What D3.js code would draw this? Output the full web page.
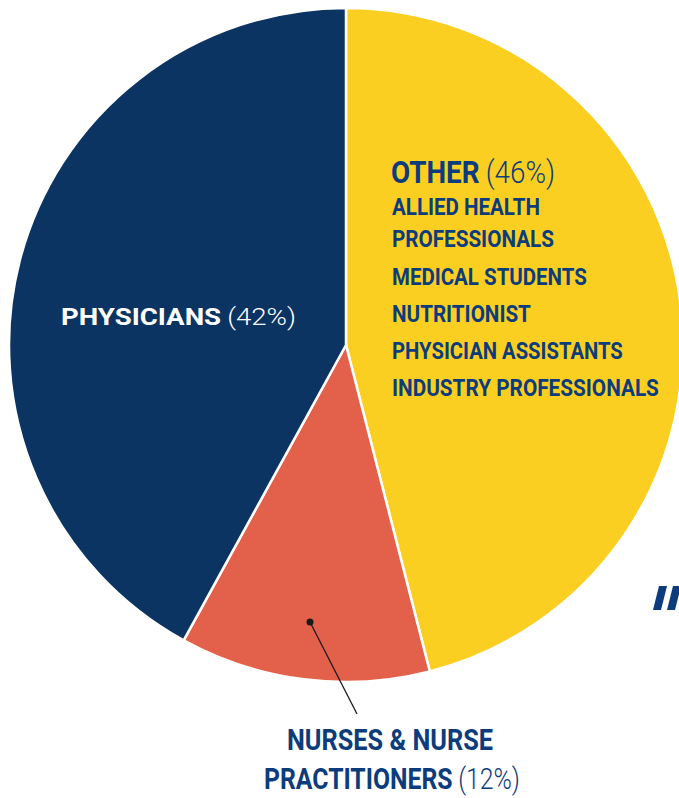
<!DOCTYPE html>
<html>
<head>
<meta charset="utf-8">
<script src="https://cdn.jsdelivr.net/npm/d3@7"></script>
<style>
  html, body { margin: 0; padding: 0; background: #ffffff; }
  svg { display: block; }
  text { font-family: Roboto, "Liberation Sans", sans-serif; }
</style>
</head>
<body>
<svg id="chart" width="679" height="798"></svg>
<script>
// ---- data ----
const categories = ["OTHER", "NURSES & NURSE PRACTITIONERS", "PHYSICIANS"];
const values = [46, 12, 42];
const colors = ["#FBCF21", "#E3614A", "#0C3462"];
const otherItems = ["ALLIED HEALTH", "PROFESSIONALS", "MEDICAL STUDENTS", "NUTRITIONIST", "PHYSICIAN ASSISTANTS", "INDUSTRY PROFESSIONALS"];

const W = 679, H = 798;
const cx = 346, cy = 345, R = 337;
const textBlue = "#0C3C7C";

const svg = d3.select("#chart");

// decorative quote marks partly visible at right edge
const deco = svg.append("g").attr("fill", "#0C3C7C");
deco.append("path").attr("d", "M659,586 L667,586 L661,610 L653,610 Z");
deco.append("path").attr("d", "M673,586 L681,586 L675,610 L667,610 Z");

const data = categories.map((c, i) => ({ name: c, value: values[i], color: colors[i] }));
const pie = d3.pie().value(d => d.value).sort(null);
const arcs = pie(data);
const arc = d3.arc().innerRadius(0).outerRadius(R);

const g = svg.append("g").attr("transform", `translate(${cx},${cy})`);
g.selectAll("path.slice").data(arcs).join("path")
  .attr("class", "slice")
  .attr("d", arc)
  .attr("fill", d => d.data.color)
  .attr("stroke", "#ffffff")
  .attr("stroke-width", 2.5)
  .attr("stroke-linejoin", "miter");

// label helper: parts laid out sequentially, whole group squeezed horizontally to a target width
function label(x, y, parts, size, width, color, anchor) {
  const grp = svg.append("g");
  let cur = 0;
  const nodes = [];
  parts.forEach((p, i) => {
    const t = grp.append("text")
      .attr("x", cur).attr("y", 0)
      .attr("font-size", size)
      .attr("font-weight", p.w)
      .attr("fill", color)
      .text(p.t);
    cur += t.node().getComputedTextLength();
    if (i < parts.length - 1) cur += size * 0.22;
    nodes.push(t);
  });
  const s = width / cur;
  const x0 = anchor === "middle" ? x - width / 2 : x;
  grp.attr("transform", `translate(${x0},${y}) scale(${s},1)`);
  return grp;
}

// ---- PHYSICIANS label ----
label(61, 325, [{ t: "PHYSICIANS", w: 700 }, { t: `(${values[2]}%)`, w: 300 }], 24, 235, "#ffffff");

// ---- OTHER label ----
label(391, 183, [{ t: "OTHER", w: 700 }, { t: `(${values[0]}%)`, w: 300 }], 32, 164, textBlue);

const itemY = [215, 247, 285, 322, 359, 396];
const itemW = [148, 162, 195, 139, 231, 267];
otherItems.forEach((d, i) => {
  label(392, itemY[i], [{ t: d, w: 700 }], 24, itemW[i], textBlue);
});

// ---- NURSES label with leader ----
const lead = svg.append("g");
lead.append("line")
  .attr("x1", 310).attr("y1", 622)
  .attr("x2", 357).attr("y2", 714)
  .attr("stroke", "#1a1a1a").attr("stroke-width", 1.3);
lead.append("circle").attr("cx", 310).attr("cy", 622).attr("r", 3.5).attr("fill", "#1a1a1a");

label(390, 750, [{ t: "NURSES & NURSE", w: 700 }], 30, 206, textBlue, "middle");
label(392, 789, [{ t: "PRACTITIONERS", w: 700 }, { t: `(${values[1]}%)`, w: 300 }], 30, 256, textBlue, "middle");
</script>
</body>
</html>
